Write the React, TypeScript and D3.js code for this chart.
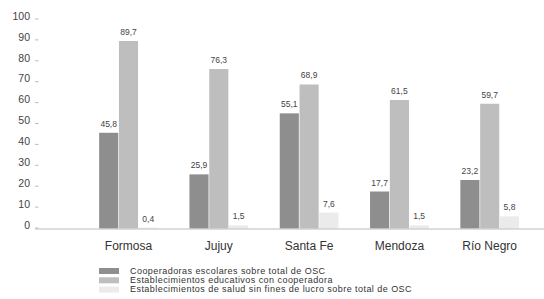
import React from 'react';
import * as d3 from 'd3';

const provinces = ['Formosa', 'Jujuy', 'Santa Fe', 'Mendoza', 'Río Negro'];
const cooperadoras = [45.8, 25.9, 55.1, 17.7, 23.2];
const establecimientosEducativos = [89.7, 76.3, 68.9, 61.5, 59.7];
const establecimientosSalud = [0.4, 1.5, 7.6, 1.5, 5.8];
const seriesNames = [
  'Cooperadoras escolares sobre total de OSC',
  'Establecimientos educativos con cooperadora',
  'Establecimientos de salud sin fines de lucro sobre total de OSC',
];
const yTicks = [0, 10, 20, 30, 40, 50, 60, 70, 80, 90, 100];

const colors = ['#8e8e8e', '#bebebe', '#ebebeb'];
const font = '"Liberation Sans", Arial, sans-serif';

const App = () => {
  const width = 544;
  const height = 299;
  const series = [cooperadoras, establecimientosEducativos, establecimientosSalud];

  const x = d3.scaleBand()
    .domain(provinces)
    .range([83.35, 534.85])
    .paddingInner(0.35)
    .paddingOuter(0.175);
  const inner = d3.scaleBand()
    .domain(seriesNames)
    .range([0, x.bandwidth()])
    .paddingInner(0.035);
  const y = d3.scaleLinear().domain([0, 100]).range([228.5, 19.5]);

  const fmt = (v) => v.toFixed(1).replace('.', ',');

  return (
    <svg width={width} height={height} style={{ position: 'absolute', left: 0, top: 0, background: '#fff' }}>
      {/* y axis labels with the little dashes */}
      {yTicks.map((t) => (
        <g key={t}>
          <text x={30} y={y(t) - 2.5} textAnchor="end" dominantBaseline="middle"
            fontFamily={font} fontSize={10.5} fill="#444">{t}</text>
          <line x1={35} x2={38.5} y1={y(t) - 0.5} y2={y(t) - 0.5} stroke="#bbb" strokeWidth={1} />
        </g>
      ))}

      {provinces.map((p, i) => (
        <g key={p} transform={`translate(${x(p)},0)`}>
          {series.map((s, j) => {
            const bx = inner(seriesNames[j]);
            const v = s[i];
            return (
              <g key={j}>
                <rect x={bx} y={y(v)} width={inner.bandwidth()} height={y(0) - y(v)} fill={colors[j]} />
                <text x={bx + inner.bandwidth() / 2} y={y(v) - 6} textAnchor="middle"
                  fontFamily={font} fontSize={8.5} fill="#444">{fmt(v)}</text>
              </g>
            );
          })}
          <text x={x.bandwidth() / 2} y={247} textAnchor="middle" dominantBaseline="middle"
            fontFamily={font} fontSize={12} fill="#333">{p}</text>
        </g>
      ))}

      <line x1={35} x2={544} y1={y(0) + 0.5} y2={y(0) + 0.5} stroke="#bbb" strokeWidth={1} />

      {seriesNames.map((n, j) => (
        <g key={n} transform={`translate(99,${271 + j * 9.3})`}>
          <rect x={0} y={-3} width={20} height={6} fill={colors[j]} />
          <text x={31} y={0.5} dominantBaseline="middle" fontFamily={font} fontSize={9}
            letterSpacing={0.45} fill="#333">{n}</text>
        </g>
      ))}
    </svg>
  );
};

export default App;
